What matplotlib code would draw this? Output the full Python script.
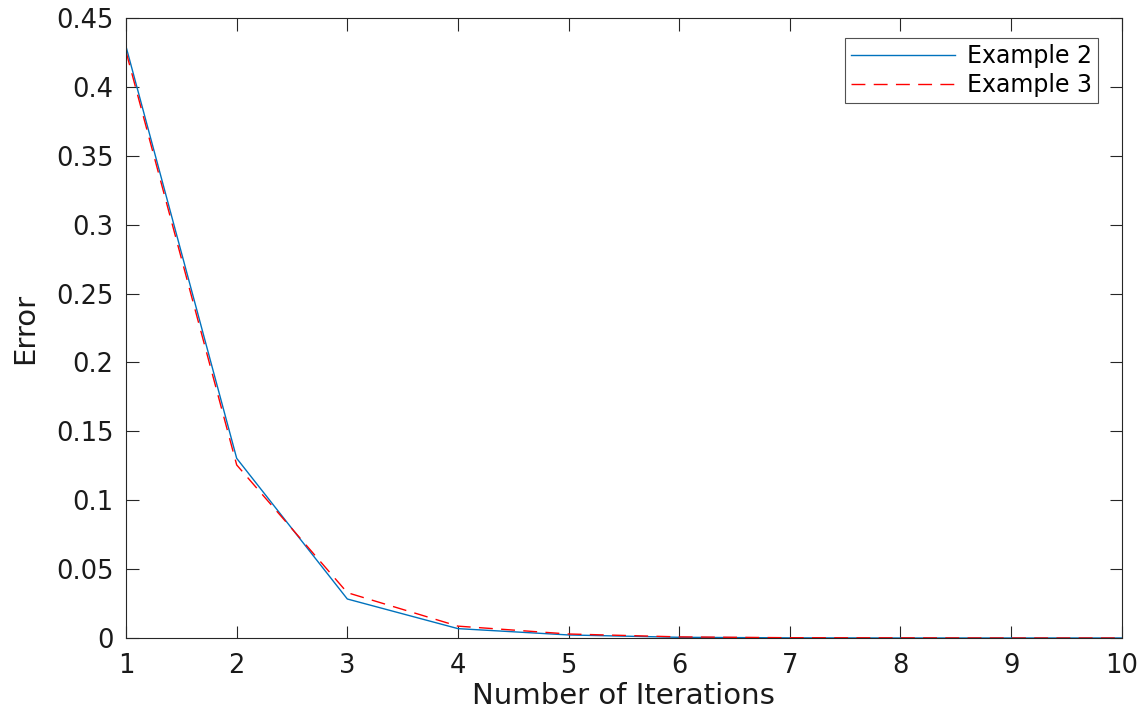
import matplotlib
matplotlib.use("Agg")
import matplotlib.pyplot as plt

iterations = [1, 2, 3, 4, 5, 6, 7, 8, 9, 10]
example2 = [0.4292, 0.1304, 0.0283, 0.0068, 0.0022, 0.0005, 0.0001, 0.0, 0.0, 0.0]
example3 = [0.4255, 0.1256, 0.0329, 0.0086, 0.0029, 0.0008, 0.0002, 0.0001, 0.0, 0.0]
yticks = [0, 0.05, 0.1, 0.15, 0.2, 0.25, 0.3, 0.35, 0.4, 0.45]
ytick_labels = ["0", "0.05", "0.1", "0.15", "0.2", "0.25", "0.3", "0.35", "0.4", "0.45"]

plt.rcParams['font.family'] = ['DejaVu Sans']

fig = plt.figure(figsize=(11.47, 7.15), dpi=100)
ax = fig.add_axes([0.1099, 0.1077, 0.978 - 0.1099, 0.9748 - 0.1077])

ax.plot(iterations, example2, color='#0072BD', lw=1.0, label='Example 2')
ax.plot(iterations, example3, color='#FF0000', lw=1.0, ls=(0, (10, 6)), label='Example 3')

ax.set_xlim(1, 10)
ax.set_ylim(0, 0.45)
ax.set_xticks(iterations)
ax.set_yticks(yticks)
ax.set_yticklabels(ytick_labels)
ax.tick_params(direction='in', top=True, right=True, labelsize=18.5, length=9,
               width=0.8, colors='#262626', labelcolor='#1a1a1a')
ax.tick_params(axis='x', pad=11)
ax.tick_params(axis='y', pad=9)
for s in ax.spines.values():
    s.set_color('#262626')
    s.set_linewidth(0.8)

ax.set_xlabel('Number of Iterations', fontsize=21, color='#1a1a1a', labelpad=2)
ax.set_ylabel('Error', fontsize=21, color='#1a1a1a', labelpad=12)

leg = ax.legend(loc='upper right', fontsize=17, frameon=True, fancybox=False,
                edgecolor='#262626', handlelength=4.4, borderpad=0.25,
                labelspacing=0.2, handletextpad=0.5, borderaxespad=0,
                bbox_to_anchor=(0.976, 0.967))
leg.get_frame().set_linewidth(0.8)

fig.savefig('out.png', dpi=100, facecolor='white')
